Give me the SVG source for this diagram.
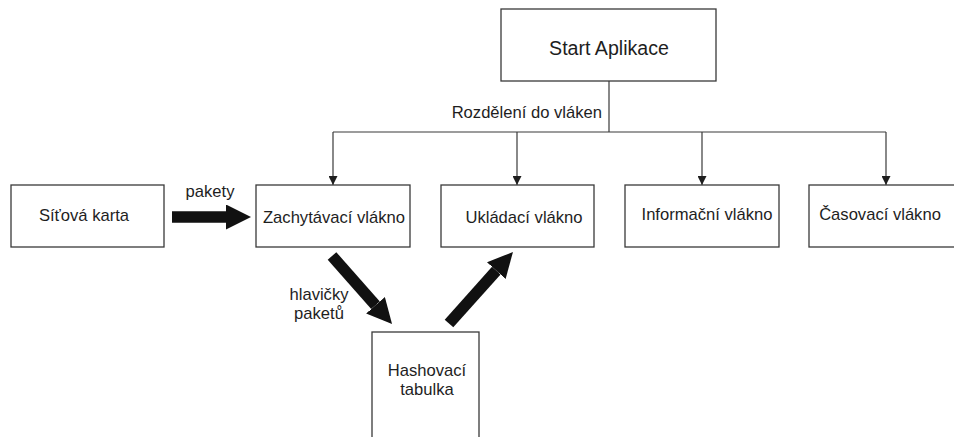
<svg xmlns="http://www.w3.org/2000/svg" width="954" height="437" viewBox="0 0 954 437">
  <defs>
    <style>
      .box { fill: #ffffff; stroke: #3a3a3a; stroke-width: 1.3; }
      .lbl { font-family: "Liberation Sans", Arial, sans-serif; font-size: 16.6px; fill: #1e1e1e; }
      .title { font-size: 19.6px; }
      .thin { fill: none; stroke: #3a3a3a; stroke-width: 1.2; }
      .thick { fill: none; stroke: #111111; stroke-width: 11.5; stroke-linecap: butt; }
    </style>
    <marker id="smallHead" markerUnits="userSpaceOnUse" markerWidth="9" markerHeight="9" viewBox="0 0 9 9" refX="9" refY="4.5" orient="auto">
      <path d="M0,0 L9,4.5 L0,9 z" fill="#1e1e1e"/>
    </marker>
    <marker id="bigHead" markerUnits="userSpaceOnUse" markerWidth="25" markerHeight="25" viewBox="0 0 25 25" refX="0" refY="12.5" orient="auto">
      <path d="M0,0 L25,12.5 L0,25 z" fill="#111111"/>
    </marker>
  </defs>

  <rect width="954" height="437" fill="#ffffff"/>

  <g id="connectors">
    <path class="thin" d="M609,81 V132 M333,132 H886"/>
    <line class="thin" x1="333" y1="132" x2="333" y2="185" marker-end="url(#smallHead)"/>
    <line class="thin" x1="517" y1="132" x2="517" y2="185" marker-end="url(#smallHead)"/>
    <line class="thin" x1="702" y1="132" x2="702" y2="185" marker-end="url(#smallHead)"/>
    <line class="thin" x1="886" y1="132" x2="886" y2="185" marker-end="url(#smallHead)"/>
    <text class="lbl" x="602" y="118" text-anchor="end">Rozdělení do vláken</text>

    <line class="thick" x1="172" y1="217" x2="226" y2="217" marker-end="url(#bigHead)"/>
    <text class="lbl" x="210" y="197" text-anchor="middle">pakety</text>

    <line class="thick" x1="332" y1="256" x2="375.5" y2="305.3" marker-end="url(#bigHead)"/>
    <text class="lbl" x="319" y="300" text-anchor="middle">hlavičky<tspan x="319" dy="19">paketů</tspan></text>

    <line class="thick" x1="449" y1="323.5" x2="496.3" y2="270.6" marker-end="url(#bigHead)"/>
  </g>

  <g id="start">
    <rect class="box" x="501" y="9" width="215" height="72"/>
    <text class="lbl title" x="609" y="55" text-anchor="middle">Start Aplikace</text>
  </g>

  <g id="sitova-karta">
    <rect class="box" x="11" y="185" width="153" height="62"/>
    <text class="lbl" x="84" y="221" text-anchor="middle">Síťová karta</text>
  </g>

  <g id="zachytavaci">
    <rect class="box" x="256" y="185" width="154" height="62"/>
    <text class="lbl" x="334" y="223" text-anchor="middle">Zachytávací vlákno</text>
  </g>

  <g id="ukladaci">
    <rect class="box" x="441" y="185" width="153" height="62"/>
    <text class="lbl" x="524" y="223" text-anchor="middle">Ukládací vlákno</text>
  </g>

  <g id="informacni">
    <rect class="box" x="625" y="185" width="154" height="62"/>
    <text class="lbl" x="707" y="220" text-anchor="middle">Informační vlákno</text>
  </g>

  <g id="casovaci">
    <rect class="box" x="809" y="185" width="154" height="62"/>
    <text class="lbl" x="880" y="220" text-anchor="middle">Časovací vlákno</text>
  </g>

  <g id="hashovaci">
    <rect class="box" x="372" y="332" width="107" height="120"/>
    <text class="lbl" x="427" y="376" text-anchor="middle">Hashovací<tspan x="427" dy="19">tabulka</tspan></text>
  </g>
</svg>
